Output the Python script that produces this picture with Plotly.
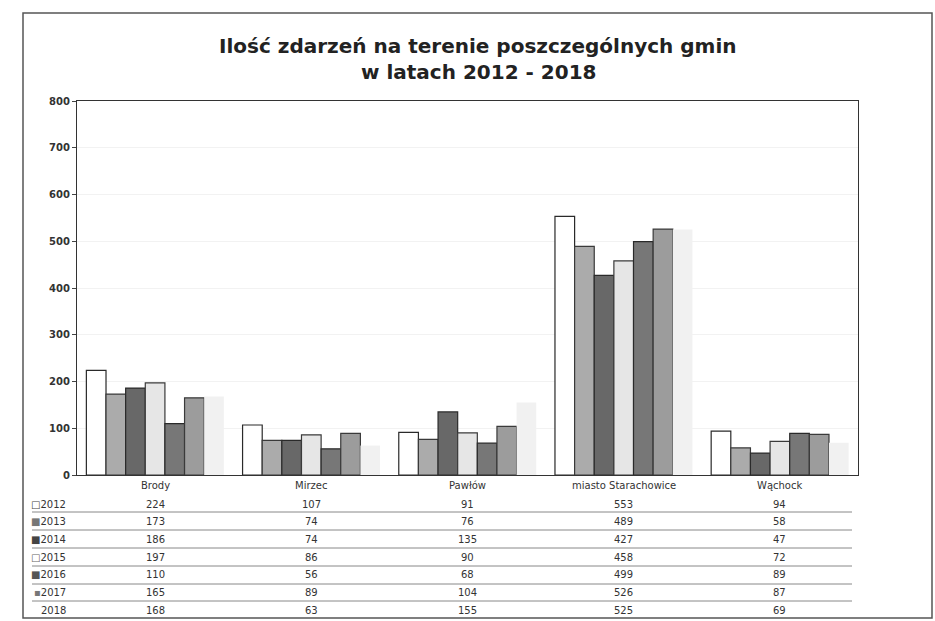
import plotly.graph_objects as go

categories = ["Brody", "Mirzec", "Pawłów", "miasto Starachowice", "Wąchock"]
years = ["2012", "2013", "2014", "2015", "2016", "2017", "2018"]
values_2012 = [224, 107, 91, 553, 94]
values_2013 = [173, 74, 76, 489, 58]
values_2014 = [186, 74, 135, 427, 47]
values_2015 = [197, 86, 90, 458, 72]
values_2016 = [110, 56, 68, 499, 89]
values_2017 = [165, 89, 104, 526, 87]
values_2018 = [168, 63, 155, 525, 69]
series = [values_2012, values_2013, values_2014, values_2015, values_2016, values_2017, values_2018]
y_ticks = [0, 100, 200, 300, 400, 500, 600, 700, 800]
title_lines = ["Ilość zdarzeń na terenie poszczególnych gmin", "w latach 2012 - 2018"]

fills = ["#ffffff", "#ababab", "#686868", "#e6e6e6", "#777777", "#9c9c9c", "#f1f1f1"]
outlines = ["#2a2a2a", "#3a3a3a", "#2a2a2a", "#3a3a3a", "#2a2a2a", "#3a3a3a", "rgba(0,0,0,0)"]
symbols = ["□", "■", "■", "□", "■", "▪", ""]
sym_colors = ["#444444", "#777777", "#444444", "#666666", "#555555", "#777777", "#ffffff"]

W, H = 935, 621
L, R, T, B = 23, 3, 13, 3
pw, ph = W - L - R, H - T - B


def px(x):
    return (x - L) / pw


def py(y):
    return (H - B - y) / ph


fig = go.Figure()
for yr, vals, f, o in zip(years, series, fills, outlines):
    fig.add_trace(go.Bar(name=yr, x=categories, y=vals,
                         marker=dict(color=f, line=dict(color=o, width=1.2))))

font_fam = "DejaVu Sans, Verdana, sans-serif"
fig.update_layout(
    width=W, height=H, autosize=False,
    margin=dict(l=L, r=R, t=T, b=B, autoexpand=False),
    paper_bgcolor="white", plot_bgcolor="white",
    barmode="group", bargap=0.12, bargroupgap=0,
    showlegend=False,
    font=dict(family=font_fam, color="#222222"),
    xaxis=dict(domain=[px(77), px(858)], showticklabels=False, ticks="",
               showline=True, linecolor="#333333", linewidth=1.3, mirror=True,
               showgrid=False, automargin=False),
    yaxis=dict(domain=[py(475), py(101)], range=[0, 800], tickvals=y_ticks,
               ticks="outside", ticklen=4, tickcolor="#444444", automargin=False,
               tickfont=dict(size=10, family=font_fam, color="#333333", weight="bold"),
               showline=True, linecolor="#333333", linewidth=1.3, mirror=True,
               showgrid=True, gridcolor="rgba(0,0,0,0.05)", zeroline=False),
)

# title (two lines)
for txt, yc in zip(title_lines, [46, 72]):
    fig.add_annotation(x=px(478), xref="paper", y=py(yc), yref="paper", text=txt,
                       showarrow=False, xanchor="center", yanchor="middle",
                       font=dict(size=20, family=font_fam, color="#222222", weight="bold"))

# outer frame
fig.add_shape(type="rect", xref="paper", yref="paper", x0=0, y0=0, x1=1, y1=1,
              line=dict(color="#555555", width=1.5))

# table: category header
for c in categories:
    fig.add_annotation(x=c, xref="x", y=py(485), yref="paper", text=c, showarrow=False,
                       font=dict(size=10, family=font_fam, color="#333333"),
                       xanchor="center", yanchor="middle")

row_centers = [504, 521, 539, 557, 574, 592, 610]
row_lines = [512, 530, 548, 566, 584, 601]
for i, (yr, vals) in enumerate(zip(years, series)):
    yc = row_centers[i]
    label = (f"<span style='color:{sym_colors[i]}'>{symbols[i]}</span>{yr}"
             if symbols[i] else yr)
    fig.add_annotation(x=px(68), xref="paper", y=py(yc), yref="paper", text=label,
                       showarrow=False, xanchor="right", yanchor="middle",
                       font=dict(size=10, family=font_fam, color="#333333"))
    for c, v in zip(categories, vals):
        fig.add_annotation(x=c, xref="x", y=py(yc), yref="paper", text=str(v),
                           showarrow=False, xanchor="center", yanchor="middle",
                           font=dict(size=10, family=font_fam, color="#333333"))

for yl in row_lines:
    fig.add_shape(type="line", xref="paper", yref="paper", x0=px(32), x1=px(852),
                  y0=py(yl), y1=py(yl), line=dict(color="#888888", width=1))

fig.write_html("out.html",
               config={"displayModeBar": False, "responsive": False},
               post_script="document.body.style.margin='0';document.body.style.overflow='hidden';")
